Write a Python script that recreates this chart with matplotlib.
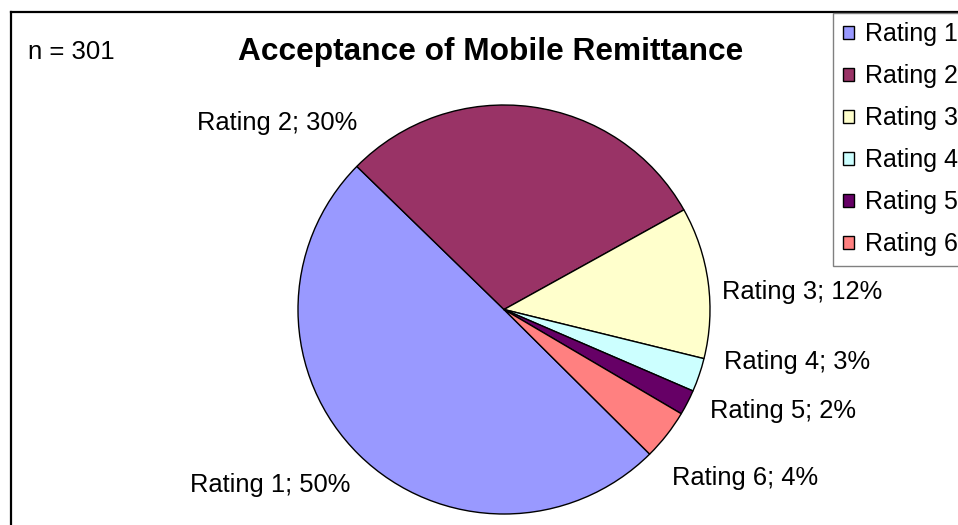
import matplotlib
matplotlib.use("Agg")
from matplotlib import pyplot as plt
from matplotlib.lines import Line2D

plt.rcParams['font.family'] = ['Liberation Sans', 'DejaVu Sans']

categories = ['Rating 1', 'Rating 2', 'Rating 3', 'Rating 4', 'Rating 5', 'Rating 6']
counts = [150, 89, 36, 8, 6, 12]
pct_labels = ['50%', '30%', '12%', '3%', '2%', '4%']
colors = ['#9999FF', '#993366', '#FFFFCC', '#CCFFFF', '#660066', '#FF8080']
# label spots, in pie radius units (Excel placed these by hand more or less)
label_pos = [(-1.136, -0.858), (-1.102, 0.912), (1.447, 0.086),
             (1.422, -0.257), (1.354, -0.496), (1.170, -0.824)]

W, H = 958, 525
fig = plt.figure(figsize=(W / 100, H / 100), dpi=100)

# pie axes: centre ~ (504, 309.5) px, a touch wider than tall like the original
rx, ry = 206, 204.5
cx, cy = 504, 309.5
ax = fig.add_axes([(cx - rx) / W, (H - cy - ry) / H, 2 * rx / W, 2 * ry / H])
wedges, _ = ax.pie(counts, colors=colors, startangle=-45, counterclock=False,
                   radius=1, wedgeprops=dict(edgecolor='black', linewidth=1.0))
ax.set_xlim(-1, 1)
ax.set_ylim(-1, 1)
ax.set_aspect('auto')
ax.axis('off')

for i in range(len(categories)):
    ax.text(label_pos[i][0], label_pos[i][1], categories[i] + '; ' + pct_labels[i],
            ha='center', va='center', fontsize=18.4, clip_on=False)

# title and n
fig.text(491 / W, 1 - 52 / H, 'Acceptance of Mobile Remittance', ha='center', va='center',
         fontsize=22.8, fontweight='bold')
fig.text(28 / W, 1 - 52 / H, 'n = 301', ha='left', va='center', fontsize=18.5)

# chart area border (runs off right and bottom)
fig.add_artist(Line2D([11 / W, 11 / W], [1 - 12 / H, 0], color='black', linewidth=1.6,
                      transform=fig.transFigure))
fig.add_artist(Line2D([11 / W, 1], [1 - 12 / H, 1 - 12 / H], color='black', linewidth=1.6,
                      transform=fig.transFigure))

# legend is cut off by the right edge in the original too
leg = fig.legend(wedges, categories, loc='upper left',
                 bbox_to_anchor=(833 / W, 1 - 13 / H), fontsize=18,
                 handlelength=0.45, handleheight=0.45, handletextpad=0.45,
                 labelspacing=0.72, borderpad=0.38, borderaxespad=0,
                 fancybox=False, framealpha=1)
leg.get_frame().set_edgecolor('#808080')
leg.get_frame().set_linewidth(1.0)

fig.savefig('out.png', dpi=100)
